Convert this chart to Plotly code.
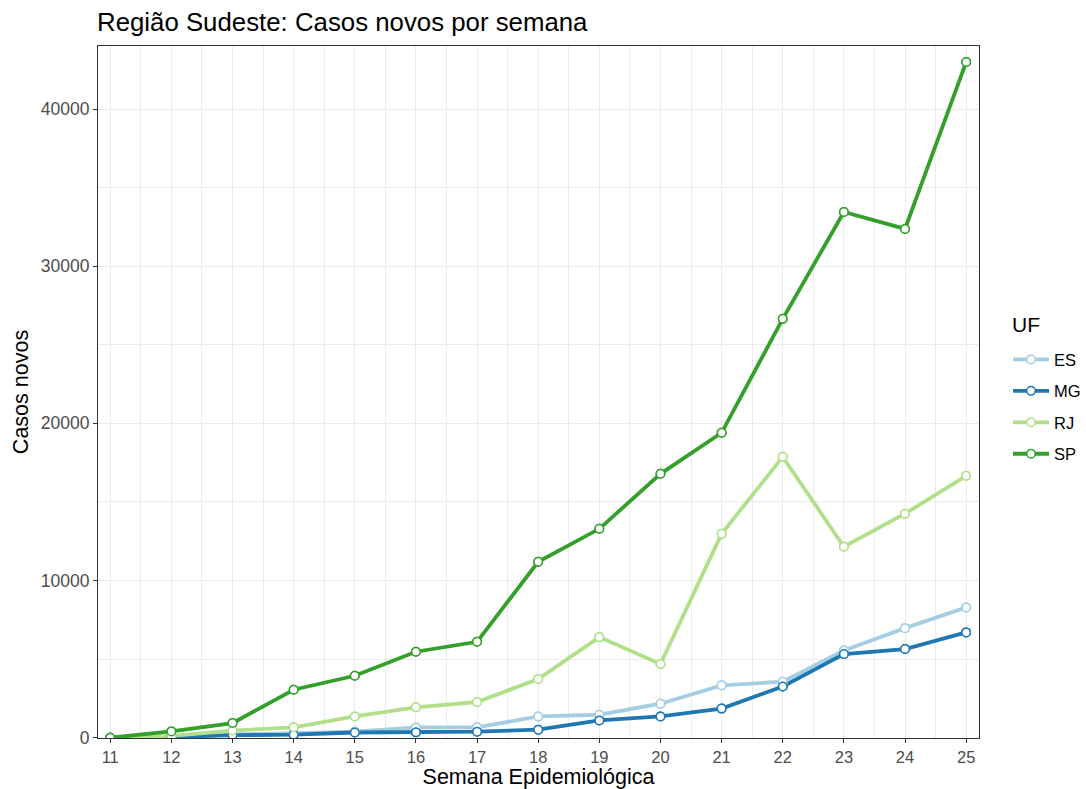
"""Casos novos por semana epidemiológica - Região Sudeste."""

import plotly.graph_objects as go

semanas = list(range(11, 26))

es = [0, 50, 200, 300, 380, 650, 660, 1350, 1460, 2160, 3330, 3560, 5550, 6970, 8290]
mg = [0, 40, 160, 190, 330, 340, 380, 510, 1100, 1350, 1850, 3260, 5320, 5640, 6700]
rj = [0, 120, 450, 660, 1350, 1930, 2270, 3730, 6400, 4690, 12970, 17870, 12150, 14250, 16660]
sp = [0, 400, 930, 3050, 3940, 5470, 6100, 11190, 13290, 16790, 19400, 26650, 33450, 32370, 42990]

ufs = ["ES", "MG", "RJ", "SP"]
valores = [es, mg, rj, sp]
cores = ["#A6CEE3", "#1F78B4", "#B2DF8A", "#33A02C"]

FONT = "Liberation Sans, Arial, sans-serif"

fig = go.Figure()

# lines first (with legend entries), points drawn on top afterwards
for uf, ys, cor in zip(ufs, valores, cores):
    fig.add_trace(go.Scatter(
        x=semanas, y=ys,
        mode="lines+markers",
        name=uf,
        legendgroup=uf,
        line=dict(color=cor, width=3.8),
        marker=dict(symbol="circle", size=8.5, color="white",
                    line=dict(color=cor, width=1.5)),
    ))

for uf, ys, cor in zip(ufs, valores, cores):
    fig.add_trace(go.Scatter(
        x=semanas, y=ys,
        mode="markers",
        name=uf,
        legendgroup=uf,
        showlegend=False,
        marker=dict(symbol="circle", size=8.5, color="white",
                    line=dict(color=cor, width=1.5)),
    ))

eixo = dict(
    showline=True, linecolor="#333333", linewidth=1, mirror=True,
    ticks="outside", ticklen=4, tickcolor="#333333",
    tickfont=dict(size=17.5, color="#4D4D4D", family=FONT),
    showgrid=True, gridcolor="#EBEBEB", gridwidth=1,
    zeroline=False, automargin=False,
)

fig.update_xaxes(
    **eixo,
    range=[10.8, 25.21],
    tickmode="array", tickvals=semanas, ticktext=[str(s) for s in semanas],
    minor=dict(dtick=0.5, tick0=10.5, showgrid=True, gridcolor="#EBEBEB", gridwidth=1),
    title=dict(text="Semana Epidemiológica", font=dict(size=21.5, color="black", family=FONT),
               standoff=4),
)
fig.update_xaxes(tickfont=dict(size=16.5))
fig.update_yaxes(
    **eixo,
    range=[-20, 44010],
    tickmode="array", tickvals=[0, 10000, 20000, 30000, 40000],
    ticktext=["0", "10000", "20000", "30000", "40000"],
    minor=dict(dtick=5000, tick0=0, showgrid=True, gridcolor="#EBEBEB", gridwidth=1),
    title=dict(text="Casos novos", font=dict(size=21.5, color="black", family=FONT),
               standoff=6),
)

# legend title as a free annotation so its gap to the entries matches ggplot
fig.add_annotation(
    text="UF", showarrow=False,
    xref="paper", yref="paper",
    x=(1010 - 98) / 881, xanchor="left",
    y=(738 - 325) / 692, yanchor="middle",
    font=dict(size=21, color="black", family=FONT),
)

fig.update_layout(
    width=1086, height=789,
    paper_bgcolor="white", plot_bgcolor="white",
    margin=dict(l=98, r=107, t=46, b=51, autoexpand=False),
    font=dict(family=FONT),
    title=dict(
        text="Região Sudeste: Casos novos por semana",
        font=dict(size=25.8, color="black", family=FONT),
        x=97 / 1086, xanchor="left", xref="container",
        y=1 - 22 / 789, yanchor="middle", yref="container",
    ),
    legend=dict(
        font=dict(size=16.5, color="black", family=FONT),
        x=(1008 - 98) / 881, xanchor="left", y=0.572, yanchor="top",
        tracegroupgap=7,
        itemwidth=36,
        bgcolor="rgba(0,0,0,0)",
    ),
)

fig.write_html(
    "out.html",
    config={"displayModeBar": False},
    post_script="document.body.style.margin='0';",
)
